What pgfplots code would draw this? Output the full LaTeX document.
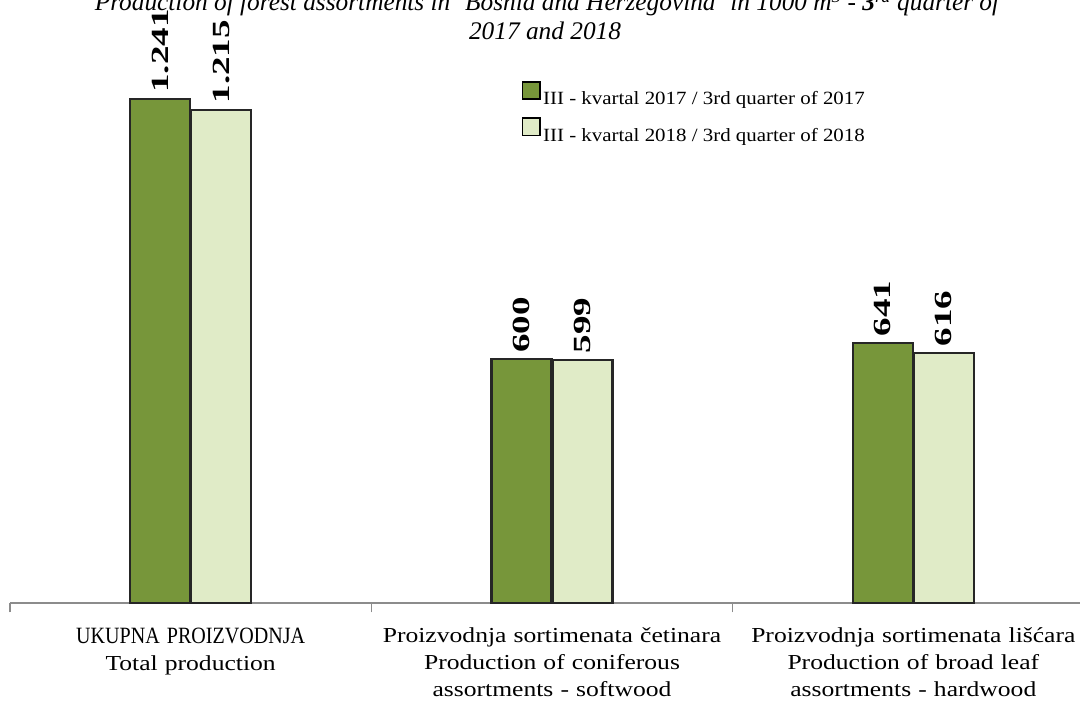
\documentclass[border=0pt]{standalone}
\usepackage{pgfplots}
\pgfplotsset{compat=1.18}
\usepackage{fontspec}
\setmainfont{Liberation Serif}
\newfontfamily\barfont[FakeStretch=1.5]{Liberation Serif}
\newfontfamily\tickfont[FakeStretch=1.2]{Liberation Serif}
\newfontfamily\capfont[FakeStretch=0.86]{Liberation Serif}
\newfontfamily\legfont[FakeStretch=1.12]{Liberation Serif}
\definecolor{darkg}{HTML}{77963A}
\definecolor{lightg}{HTML}{E0EBC7}
\begin{document}
\begin{tikzpicture}
\begin{axis}[
  at={(7.5pt,74.25pt)}, anchor=south west,
  scale only axis, width=813pt, height=456.75pt,
  xmin=-0.5, xmax=2.5, ymin=0, ymax=1500,
  clip=false,
  axis x line*=bottom, axis y line=none,
  x axis line style={draw=gray!90, line width=1.2pt},
  ybar=0.75pt, bar width=45pt,
  xtick={0,1,2},
  xticklabels={{{\capfont\fontsize{17.5}{20.25}\selectfont UKUPNA PROIZVODNJA}\\Total production},
               {Proizvodnja sortimenata četinara\\Production of coniferous\\assortments - softwood},
               {Proizvodnja sortimenata lišćara\\Production of broad leaf\\assortments - hardwood}},
  xticklabel style={align=center, font=\tickfont\fontsize{16}{20.25}\selectfont, text width=275pt, yshift=-15pt},
  major tick length=0pt,
  extra x ticks={-0.5,0.5,1.5,2.5},
  extra x tick labels={},
  extra x tick style={major tick length=7pt, tick align=outside, tick style={draw=gray!90, line width=1pt}},
  point meta=explicit symbolic,
  nodes near coords,
  nodes near coords style={rotate=90, anchor=west, font=\barfont\bfseries\fontsize{18.5}{18.5}\selectfont, inner sep=4pt, text=black},
  legend style={draw=none, fill=none, at={(0.468,0.862)}, anchor=north west,
    font=\legfont\fontsize{14}{15}\selectfont, row sep=6pt, legend cell align=left},
  legend image code/.code={\draw[#1, draw=black, line width=1.2pt] (0pt,0pt) rectangle (13pt,13pt);},
]
\addplot[fill=darkg, draw=black!85, line width=1.6pt] coordinates {(0,1241)[1.241] (1,600)[600] (2,641)[641]};
\addplot[fill=lightg, draw=black!85, line width=1.6pt] coordinates {(0,1215)[1.215] (1,599)[599] (2,616)[616]};
\legend{III - kvartal 2017 / 3rd quarter of 2017, III - kvartal 2018 / 3rd quarter of 2018}
\end{axis}
\node[font=\itshape\fontsize{19}{19}\selectfont] at (410.25pt,524pt) {Production of forest assortments in `Bosnia and Herzegovina' in 1000 m\textsuperscript{3} - \textbf{3}\textsuperscript{rd} quarter of};
\node[font=\itshape\fontsize{19}{19}\selectfont] at (408.75pt,503pt) {2017 and 2018};
\pgfresetboundingbox
\useasboundingbox (0pt,0pt) rectangle (810pt,526.5pt);
\end{tikzpicture}
\end{document}
